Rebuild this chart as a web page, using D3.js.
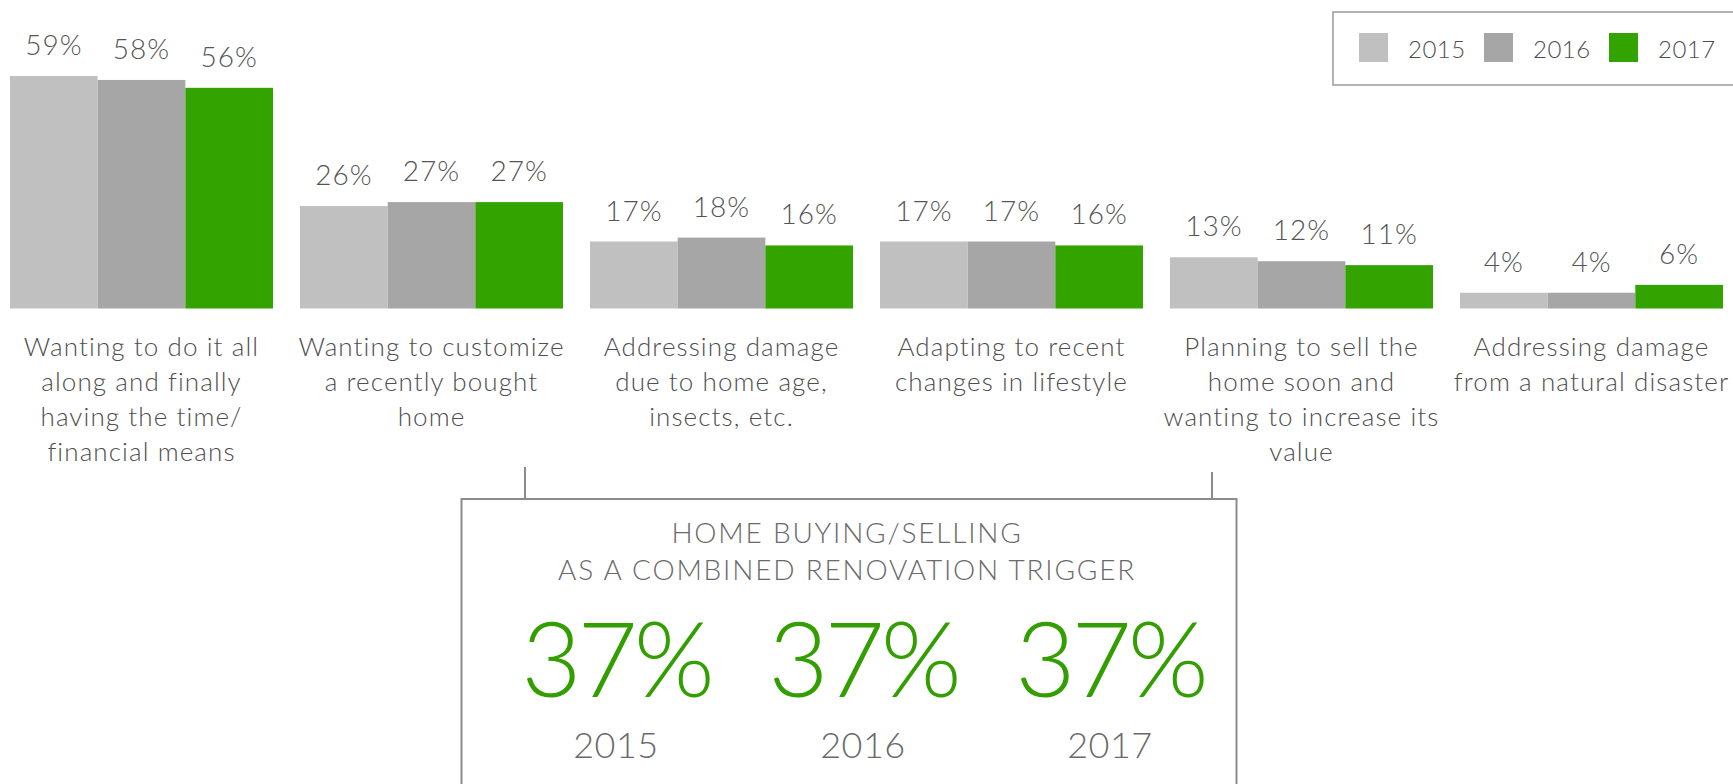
<!DOCTYPE html>
<html>
<head>
<meta charset="utf-8">
<script src="https://cdn.jsdelivr.net/npm/d3@7"></script>
<style>
  html, body { margin: 0; padding: 0; background: #fff; overflow: hidden; }
  text { font-family: Lato, "Open Sans", sans-serif; font-weight: 300; }
</style>
</head>
<body>
<div id="chart"></div>
<script>
// chart data
var categories = [
    ["Wanting to do it all", "along and finally", "having the time/", "financial means"],
    ["Wanting to customize", "a recently bought", "home"],
    ["Addressing damage", "due to home age,", "insects, etc."],
    ["Adapting to recent", "changes in lifestyle"],
    ["Planning to sell the", "home soon and", "wanting to increase its", "value"],
    ["Addressing damage", "from a natural disaster"]
];
var years = ["2015", "2016", "2017"];
var values2015 = [59, 26, 17, 17, 13, 4];
var values2016 = [58, 27, 18, 17, 12, 4];
var values2017 = [56, 27, 16, 16, 11, 6];
var colors = ["#c0c0c0", "#a6a6a6", "#33a300"];

// combined trigger box data
var combinedTitle = ["HOME BUYING/SELLING", "AS A COMBINED RENOVATION TRIGGER"];
var combinedValues = [37, 37, 37];

var width = 1733;
var height = 784;

var svg = d3.select("#chart")
    .append("svg")
    .attr("width", width)
    .attr("height", height);

var series = [values2015, values2016, values2017];
var catIndex = categories.map(function(d, i) { return i; });

// scales
var x0 = d3.scaleBand()
    .domain(catIndex)
    .range([10, 1723])
    .paddingInner(0.093)
    .paddingOuter(0);

var x1 = d3.scaleBand()
    .domain(years)
    .range([0, x0.bandwidth()]);

var y = d3.scaleLinear()
    .domain([0, 59])
    .range([308.5, 76]);

var color = d3.scaleOrdinal()
    .domain(years)
    .range(colors);

// one group per category
var groups = svg.selectAll(".group")
    .data(catIndex)
    .enter().append("g")
    .attr("class", "group")
    .attr("transform", function(i) { return "translate(" + x0(i) + ",0)"; });

var bars = groups.selectAll(".bar")
    .data(function(i) {
        return years.map(function(yr, k) { return { year: yr, value: series[k][i] }; });
    })
    .enter();

bars.append("rect")
    .attr("class", "bar")
    .attr("x", function(d) { return x1(d.year); })
    .attr("width", x1.bandwidth())
    .attr("y", function(d) { return y(d.value); })
    .attr("height", function(d) { return y(0) - y(d.value); })
    .style("fill", function(d) { return color(d.year); });

// value labels above the bars
bars.append("text")
    .attr("x", function(d) { return x1(d.year) + x1.bandwidth() / 2; })
    .attr("y", function(d) { return y(d.value) - 21; })
    .attr("text-anchor", "middle")
    .style("font-size", "28px")
    .style("letter-spacing", "1px")
    .style("fill", "#555")
    .text(function(d) { return d.value + "%"; });

// category labels, wrapped as in the original
groups.append("text")
    .attr("text-anchor", "middle")
    .style("font-size", "26px")
    .style("letter-spacing", "1.1px")
    .style("fill", "#4e4e4e")
    .selectAll("tspan")
    .data(function(i) { return categories[i]; })
    .enter().append("tspan")
    .attr("x", x0.bandwidth() / 2)
    .attr("y", function(d, k) { return 355.5 + k * 35; })
    .text(function(d) { return d; });

// legend
var legend = svg.append("g");

legend.append("rect")
    .attr("x", 1333)
    .attr("y", 12)
    .attr("width", 420)
    .attr("height", 73)
    .style("fill", "none")
    .style("stroke", "#999")
    .style("stroke-width", 1.5);

var legendX = d3.scalePoint()
    .domain(years)
    .range([1359, 1609]);

var items = legend.selectAll(".item")
    .data(years)
    .enter().append("g")
    .attr("class", "item")
    .attr("transform", function(d) { return "translate(" + legendX(d) + ",0)"; });

items.append("rect")
    .attr("y", 33)
    .attr("width", 29)
    .attr("height", 29)
    .style("fill", function(d) { return color(d); });

items.append("text")
    .attr("x", 49)
    .attr("y", 58)
    .style("font-size", "24px")
    .style("letter-spacing", "0.5px")
    .style("fill", "#4e4e4e")
    .text(function(d) { return d; });

// combined trigger box with its two connectors
var box = svg.append("g")
    .style("stroke", "#8c8c8c")
    .style("stroke-width", 2)
    .style("fill", "none");

box.append("rect")
    .attr("x", 461.5)
    .attr("y", 499)
    .attr("width", 775)
    .attr("height", 320);

box.append("line")
    .attr("x1", 525).attr("x2", 525)
    .attr("y1", 467).attr("y2", 499);

box.append("line")
    .attr("x1", 1212).attr("x2", 1212)
    .attr("y1", 472).attr("y2", 499);

svg.append("text")
    .attr("text-anchor", "middle")
    .style("font-size", "28px")
    .style("letter-spacing", "1.8px")
    .style("fill", "#6a6a6a")
    .selectAll("tspan")
    .data(combinedTitle)
    .enter().append("tspan")
    .attr("x", 847)
    .attr("y", function(d, k) { return 543 + k * 37; })
    .text(function(d) { return d; });

var cx = d3.scalePoint()
    .domain(years)
    .range([616, 1110]);

svg.selectAll(".big")
    .data(combinedValues)
    .enter().append("text")
    .attr("class", "big")
    .attr("x", function(d, k) { return cx(years[k]); })
    .attr("y", 697)
    .attr("text-anchor", "middle")
    .style("font-size", "104px")
    .style("letter-spacing", "-4px")
    .style("fill", "#339e00")
    .text(function(d) { return d + "%"; });

svg.selectAll(".yr")
    .data(years)
    .enter().append("text")
    .attr("class", "yr")
    .attr("x", function(d) { return cx(d); })
    .attr("y", 758)
    .attr("text-anchor", "middle")
    .style("font-size", "36px")
    .style("letter-spacing", "0.5px")
    .style("fill", "#6a6a6a")
    .text(function(d) { return d; });
</script>
</body>
</html>
